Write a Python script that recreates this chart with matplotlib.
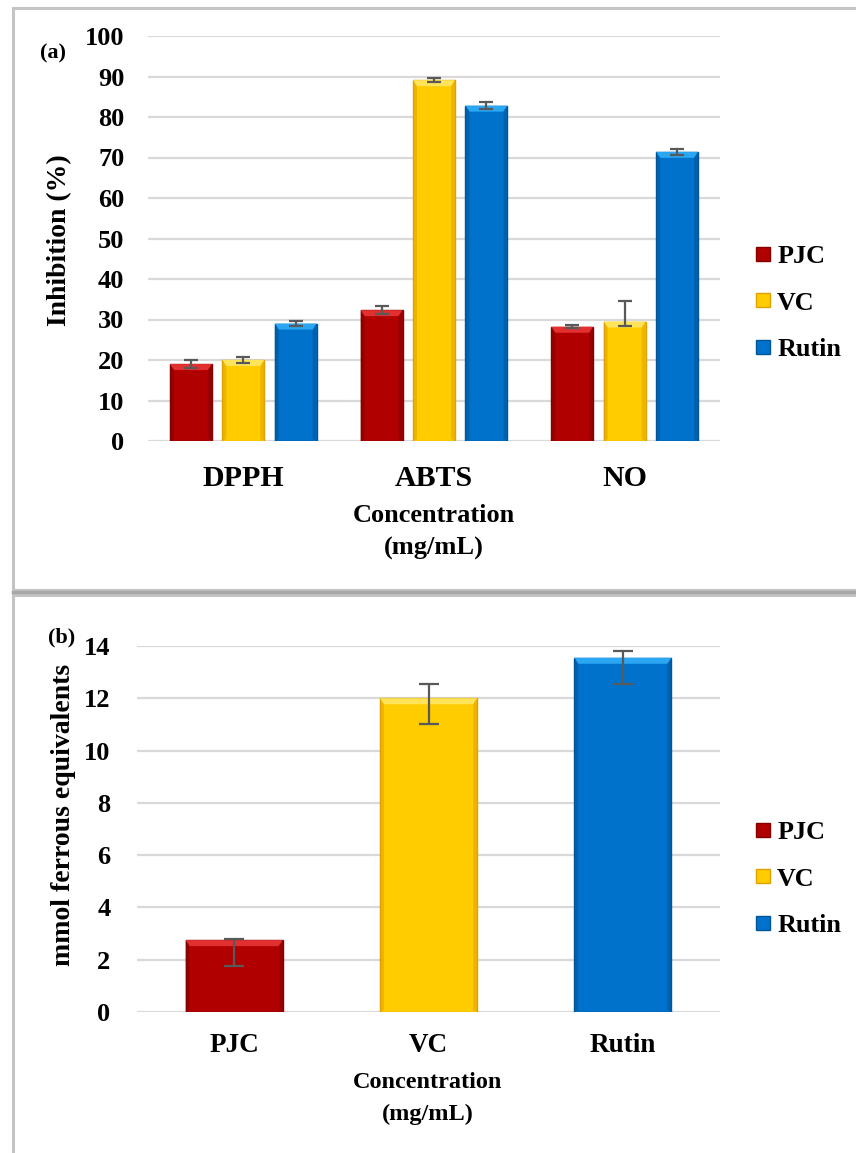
import matplotlib
matplotlib.use("Agg")
import matplotlib.pyplot as plt
from matplotlib.patches import Rectangle, Polygon
from matplotlib.transforms import IdentityTransform
from matplotlib.lines import Line2D
import numpy as np

# ---------------- data ----------------
assays = ["DPPH", "ABTS", "NO"]
series = ["PJC", "VC", "Rutin"]
inhib_pjc = [19.0, 32.3, 28.2]
inhib_vc = [20.0, 89.1, 29.5]
inhib_rutin = [29.0, 82.8, 71.4]
err_lo_pjc = [1.0, 1.0, 0.4]
err_hi_pjc = [1.0, 1.0, 0.4]
err_lo_vc = [0.7, 0.5, 1.1]
err_hi_vc = [0.7, 0.5, 5.1]
err_lo_rutin = [0.7, 0.9, 0.8]
err_hi_rutin = [0.7, 0.9, 0.8]

frap_labels = ["PJC", "VC", "Rutin"]
frap_values = [2.75, 12.0, 13.55]
frap_err_lo = [1.0, 1.0, 1.0]
frap_err_hi = [0.05, 0.56, 0.27]

yticks_a = [0, 10, 20, 30, 40, 50, 60, 70, 80, 90, 100]
yticks_b = [0, 2, 4, 6, 8, 10, 12, 14]

# ---------------- style ----------------
W, H = 856, 1153
DPI = 100
FONT = "Liberation Serif"
plt.rcParams["font.family"] = [FONT, "DejaVu Serif"]
plt.rcParams["font.weight"] = "bold"

colors = {
    "PJC": ("#B00000", "#E23030", "#840000"),
    "VC": ("#FFCC00", "#FFE45A", "#E0A200"),
    "Rutin": ("#0072CC", "#2BA6F2", "#005596"),
}
grid_c = "#D9D9D9"
err_c = "#595959"

fig = plt.figure(figsize=(W / DPI, H / DPI), dpi=DPI)
fig.patch.set_facecolor("white")


def fx(px):
    return px / W


def fy(py):
    return 1 - py / H


# panel frames
fig.add_artist(Rectangle((fx(13), fy(590)), 1.0, fy(8) - fy(590), transform=fig.transFigure,
                         fill=False, edgecolor="#C4C4C4", lw=2.2, clip_on=False))
fig.add_artist(Rectangle((fx(13), fy(1165)), 1.0, fy(595) - fy(1165), transform=fig.transFigure,
                         fill=False, edgecolor="#C4C4C4", lw=2.2, clip_on=False))
fig.add_artist(Line2D([fx(13), 1.0], [fy(592), fy(592)], transform=fig.transFigure,
                      color="#A8A8A8", lw=2.5))

ax_a = fig.add_axes([fx(148), fy(441), fx(720) - fx(148), fy(36) - fy(441)])
ax_b = fig.add_axes([fx(137), fy(1012), fx(720) - fx(137), fy(646) - fy(1012)])

bar_patches = []


def style_axes(ax, yticks, ylim, pad):
    ax.set_ylim(*ylim)
    ax.set_yticks(yticks)
    for s in ax.spines.values():
        s.set_visible(False)
    ax.tick_params(axis="both", length=0)
    ax.tick_params(axis="y", pad=pad, labelsize=19)
    ax.yaxis.grid(True, color=grid_c, lw=1.6)
    ax.set_axisbelow(True)
    for lab in ax.get_yticklabels():
        lab.set_fontweight("bold")


# ---------------- panel (a) ----------------
x = np.arange(len(assays))
bw = 0.22
step = 0.275
vals_a = [inhib_pjc, inhib_vc, inhib_rutin]
lo_a = [err_lo_pjc, err_lo_vc, err_lo_rutin]
hi_a = [err_hi_pjc, err_hi_vc, err_hi_rutin]
for i, name in enumerate(series):
    pos = x + (i - 1) * step
    bars = ax_a.bar(pos, vals_a[i], width=bw, color=colors[name][0],
                    edgecolor=colors[name][2], lw=1.0, label=name, zorder=2)
    for b in bars:
        bar_patches.append((ax_a, b, name))
    ax_a.errorbar(pos, vals_a[i], yerr=[lo_a[i], hi_a[i]], fmt="none", ecolor=err_c,
                  elinewidth=1.6, capsize=5, capthick=1.6, zorder=4)
ax_a.set_xlim(-0.5, 2.5)
ax_a.set_xticks(x)
ax_a.set_xticklabels(assays, fontsize=21.5, fontweight="bold")
ax_a.tick_params(axis="x", pad=17)
style_axes(ax_a, yticks_a, (0, 100), 17)
fig.text(fx(60), fy(240), "Inhibition (%)", rotation=90, ha="center", va="center",
         fontsize=20, fontweight="bold")

fig.text(fx(434), fy(516), "Concentration", ha="center", va="center", fontsize=19, fontweight="bold")
fig.text(fx(434), fy(548), "(mg/mL)", ha="center", va="center", fontsize=19, fontweight="bold")
fig.text(fx(53), fy(53), "(a)", ha="center", va="center", fontsize=16, fontweight="bold")

# ---------------- panel (b) ----------------
xb = np.arange(len(frap_labels))
for i, name in enumerate(frap_labels):
    bars = ax_b.bar(xb[i], frap_values[i], width=0.5, color=colors[name][0],
                    edgecolor=colors[name][2], lw=1.0, label=name, zorder=2)
    for b in bars:
        bar_patches.append((ax_b, b, name))
ax_b.errorbar(xb, frap_values, yerr=[frap_err_lo, frap_err_hi], fmt="none", ecolor=err_c,
              elinewidth=1.6, capsize=7, capthick=1.6, zorder=4)
ax_b.set_xlim(-0.5, 2.5)
ax_b.set_xticks(xb)
ax_b.set_xticklabels(frap_labels, fontsize=19.5, fontweight="bold")
ax_b.tick_params(axis="x", pad=15)
style_axes(ax_b, yticks_b, (0, 14), 19)
fig.text(fx(64), fy(815), "mmol ferrous equivalents", rotation=90, ha="center", va="center",
         fontsize=20, fontweight="bold")

fig.text(fx(428), fy(1083), "Concentration", ha="center", va="center", fontsize=17.5, fontweight="bold")
fig.text(fx(428), fy(1114), "(mg/mL)", ha="center", va="center", fontsize=17.5, fontweight="bold")
fig.text(fx(62), fy(637), "(b)", ha="center", va="center", fontsize=16, fontweight="bold")

# ---------------- legends ----------------
for ax, cy in ((ax_a, 303), (ax_b, 879)):
    handles = [Line2D([], [], marker="s", ls="none", markersize=10.5,
                      markerfacecolor=colors[n][0], markeredgecolor=colors[n][2],
                      markeredgewidth=1.0, label=n) for n in series]
    leg = ax.legend(handles=handles, loc="center left", bbox_to_anchor=(fx(755), fy(cy)),
                    bbox_transform=fig.transFigure, frameon=False, fontsize=18.8,
                    handlelength=0.65, handletextpad=0.2, labelspacing=0.88, borderpad=0,
                    borderaxespad=0)
    for t in leg.get_texts():
        t.set_fontweight("bold")

# ---------------- bevel highlights (derived from bar geometry) ----------------
fig.canvas.draw()
for ax, b, name in bar_patches:
    bb = b.get_window_extent()
    x0, x1, y0, y1 = bb.x0, bb.x1, bb.y0, bb.y1
    bev = min(6.0, (y1 - y0) / 3)
    side = 4.0
    main, light, dark = colors[name]
    top = Polygon([(x0, y1), (x1, y1), (x1 - side, y1 - bev), (x0 + side, y1 - bev)],
                  closed=True, transform=IdentityTransform(), facecolor=light,
                  edgecolor="none", zorder=3)
    left = Polygon([(x0, y0), (x0, y1), (x0 + side, y1 - bev), (x0 + side, y0 + 2)],
                   closed=True, transform=IdentityTransform(), facecolor=dark,
                   edgecolor="none", alpha=0.55, zorder=3)
    right = Polygon([(x1, y0), (x1, y1), (x1 - side, y1 - bev), (x1 - side, y0 + 2)],
                    closed=True, transform=IdentityTransform(), facecolor=dark,
                    edgecolor="none", alpha=0.55, zorder=3)
    for p in (top, left, right):
        p.set_clip_on(False)
        ax.add_artist(p)

fig.savefig("out.png", dpi=DPI)
